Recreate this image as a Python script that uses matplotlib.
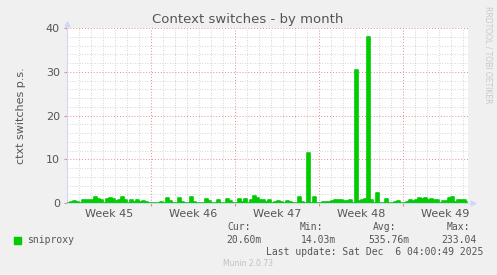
import numpy as np
import matplotlib
matplotlib.use('Agg')
import matplotlib.pyplot as plt

# values per 6-hour slot, starting Monday of week 45 (4 slots per day)
ctxt = [
    0.0, 0.3, 0.5, 0.3,  0.0, 0.8, 0.6, 0.6,   # day 0-1
    0.7, 1.3, 1.0, 0.7,  0.0, 1.0, 1.2, 0.9,   # day 2-3
    0.5, 0.8, 1.3, 0.7,  0.0, 0.6, 0.3, 0.7,   # day 4-5
    0.3, 0.5, 0.2, 0.0,  0.0, 0.0, 0.1, 0.2,   # day 6-7
    0.0, 1.1, 0.4, 0.0,  0.0, 1.2, 0.3, 0.0,   # day 8-9
    0.0, 1.3, 0.3, 0.0,  0.0, 0.0, 1.0, 0.4,   # day 10-11
    0.0, 0.0, 0.8, 0.0,  0.0, 1.0, 0.4, 0.0,   # day 12-13
    0.0, 1.0, 0.3, 1.0,  0.0, 0.8, 1.7, 1.2,   # day 14-15
    0.6, 0.8, 0.3, 0.7,  0.0, 0.3, 0.4, 0.3,   # day 16-17
    0.0, 0.4, 0.3, 0.0,  0.0, 1.3, 0.2, 0.0,   # day 18-19
    11.4, 0.0, 1.4, 0.0, 0.0, 0.2, 0.3, 0.2,   # day 20-21
    0.5, 0.8, 0.6, 0.6,  0.5, 0.4, 0.6, 0.0,   # day 22-23
    30.4, 0.5, 0.6, 1.0, 37.9, 0.6, 0.0, 2.2,  # day 24-25
    0.0, 0.0, 1.0, 0.0,  0.0, 0.2, 0.4, 0.0,   # day 26-27
    0.0, 0.3, 0.6, 0.5,  0.6, 1.1, 0.9, 1.1,   # day 28-29
    0.8, 0.9, 0.6, 0.8,  0.0, 0.5, 0.4, 1.1,   # day 30-31
    1.3, 0.2, 0.8, 0.6,  0.7, 0.3,             # day 32-33
]
week_names = ['Week 45', 'Week 46', 'Week 47', 'Week 48', 'Week 49']
legend_name = 'sniproxy'
stat_labels = ['Cur:', 'Min:', 'Avg:', 'Max:']
stat_values = ['20.60m', '14.03m', '535.76m', '233.04']

BG     = '#F0F0F0'
FONT   = '#555555'
GREEN  = '#00CC00'
AXIS   = '#CFD6F8'
MAJOR  = '#e08c8c'
MINOR  = '#c8c8c8'
XMAX   = 33.42

t = (np.arange(len(ctxt)) + 0.5) / 4.0

fig = plt.figure(figsize=(4.97, 2.75), dpi=100, facecolor=BG)
ax = fig.add_axes([67/497, 72/275, 401/497, 175/275])
ax.set_facecolor('white')

# grid: minor days / 2 units, major weeks / 10 units
for d in np.arange(1, 34):
    if d % 7 == 0:
        continue
    ax.axvline(d, color=MINOR, lw=0.6, ls=(0, (1, 2)), zorder=1)
for y in np.arange(2, 40, 2):
    if y % 10 == 0:
        continue
    ax.axhline(y, color=MINOR, lw=0.6, ls=(0, (1, 2)), zorder=1)
for d in [7, 14, 21, 28]:
    ax.axvline(d, color=MAJOR, lw=0.7, ls=(0, (1, 2)), zorder=1.5)
for y in [10, 20, 30, 40]:
    ax.axhline(y, color=MAJOR, lw=0.7, ls=(0, (1, 2)), zorder=1.5)

ax.fill_between(t, ctxt, 0, step='mid', color=GREEN, lw=0, zorder=2.5)
ax.plot(t, ctxt, color=GREEN, lw=1.2, drawstyle='steps-mid', zorder=3)

ax.set_xlim(0, XMAX)
ax.set_ylim(0, 40)
for s in ['top', 'right']:
    ax.spines[s].set_visible(False)
ax.spines['left'].set_color(AXIS)
ax.spines['bottom'].set_color(AXIS)
ax.spines['left'].set_linewidth(0.8)
ax.spines['bottom'].set_linewidth(0.8)
# axis arrows
ax.plot(0, 41.0, marker='^', color=AXIS, ms=3.5, clip_on=False, zorder=4)
ax.plot(XMAX + 0.45, 0, marker='>', color=AXIS, ms=3.5, clip_on=False, zorder=4)

ax.set_yticks([0, 10, 20, 30, 40])
ax.tick_params(axis='y', colors=FONT, labelsize=8, length=2, pad=3, color=MAJOR)
ax.set_xticks([7, 14, 21, 28])
ax.set_xticklabels([])
ax.tick_params(axis='x', length=2, color=MAJOR)
ax.set_xticks([3.5, 10.5, 17.5, 24.5, 31.5], minor=True)
ax.set_xticklabels(week_names, minor=True)
ax.tick_params(axis='x', which='minor', length=0, colors=FONT, labelsize=8, pad=4)

ax.set_ylabel('ctxt switches p.s.', color=FONT, fontsize=8, labelpad=14)

fig.text(248/497, 1 - 19/275, 'Context switches - by month', color=FONT,
         fontsize=9.5, ha='center', va='center')
fig.text(488/497, 1 - 6/275, 'RRDTOOL / TOBI OETIKER', color='#c8c8c8',
         fontsize=5.5, rotation=270, ha='center', va='top')

# legend block
mono = 'DejaVu Sans Mono'
fig.patches.append(plt.Rectangle((14/497, 1 - 244/275), 7/497, 7/275,
                                 transform=fig.transFigure, color=GREEN))
fig.text(27/497, 1 - 240/275, legend_name, family=mono, fontsize=7,
         color=FONT, va='center')
label_x = [227, 300, 373, 447]
value_right = [262, 336, 409, 477]
for lx, lab in zip(label_x, stat_labels):
    fig.text(lx/497, 1 - 227/275, lab, family=mono, fontsize=7, color=FONT, va='center')
for vx, val in zip(value_right, stat_values):
    fig.text(vx/497, 1 - 240/275, val, family=mono, fontsize=7, color=FONT,
             va='center', ha='right')
fig.text(483/497, 1 - 252/275, 'Last update: Sat Dec  6 04:00:49 2025',
         family=mono, fontsize=7, color=FONT, va='center', ha='right')
fig.text(223/497, 1 - 263/275, 'Munin 2.0.73', fontsize=5.5, color='#c0c0c0',
         va='center')

fig.savefig('out.png', dpi=100, facecolor=BG)
